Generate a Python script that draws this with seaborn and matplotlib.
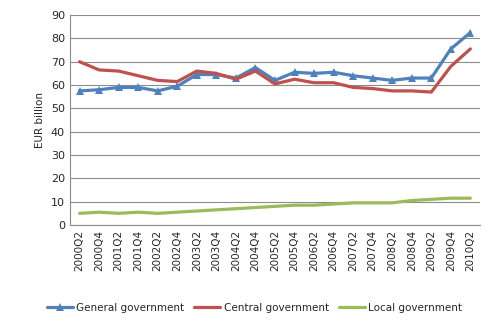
import matplotlib
matplotlib.use("Agg")
import matplotlib.pyplot as plt
import seaborn as sns
import pandas as pd

quarters = ["2000Q2","2000Q4","2001Q2","2001Q4","2002Q2","2002Q4","2003Q2","2003Q4",
            "2004Q2","2004Q4","2005Q2","2005Q4","2006Q2","2006Q4","2007Q2","2007Q4",
            "2008Q2","2008Q4","2009Q2","2009Q4","2010Q2"]
general = [57.5, 58, 59, 59, 57.5, 59.5, 64.5, 64.5, 63, 67.5, 62, 65.5, 65, 65.5, 64, 63, 62, 63, 63, 75.5, 82.5]
central = [70, 66.5, 66, 64, 62, 61.5, 66, 65, 62.5, 66, 60.5, 62.5, 61, 61, 59, 58.5, 57.5, 57.5, 57, 68, 75.5]
local = [5, 5.5, 5, 5.5, 5, 5.5, 6, 6.5, 7, 7.5, 8, 8.5, 8.5, 9, 9.5, 9.5, 9.5, 10.5, 11, 11.5, 11.5]

sns.set_style("white")
plt.rcParams['font.family'] = ['DejaVu Sans']

fig = plt.figure(figsize=(4.95, 3.28), dpi=100)
ax = fig.add_axes([0.141, 0.314, 0.829, 0.64])

series = [("General government", general, "#4F81BD", "^"),
          ("Central government", central, "#C0504D", None),
          ("Local government", local, "#9BBB59", None)]
for name, vals, color, mk in series:
    d = pd.DataFrame({"quarter": quarters, "value": vals})
    kw = dict(marker=mk, markersize=6, markeredgewidth=0) if mk else {}
    sns.lineplot(data=d, x="quarter", y="value", color=color, linewidth=2.3,
                 sort=False, label=name, ax=ax, **kw)

ax.set_ylim(0, 90)
ax.set_yticks(range(0, 91, 10))
ax.set_xlim(-0.5, len(quarters) - 0.5)
ax.yaxis.grid(True, color="#8c8c8c", linewidth=0.8)
ax.set_axisbelow(True)
for s in ["top", "right"]:
    ax.spines[s].set_visible(False)
for s in ["left", "bottom"]:
    ax.spines[s].set_color("#8c8c8c")
ax.tick_params(axis="x", labelrotation=90, labelsize=7.5, length=0)
ax.tick_params(axis="y", labelsize=8, length=0)
ax.set_xlabel("")
ax.set_ylabel("EUR billion", fontsize=7.5)
ax.legend(loc="upper center", bbox_to_anchor=(0.45, -0.37), ncol=3, frameon=False,
          fontsize=7.5, handlelength=2.5, handletextpad=0.3, columnspacing=1.0,
          borderaxespad=0, borderpad=0)
fig.savefig("out.png", dpi=100)
